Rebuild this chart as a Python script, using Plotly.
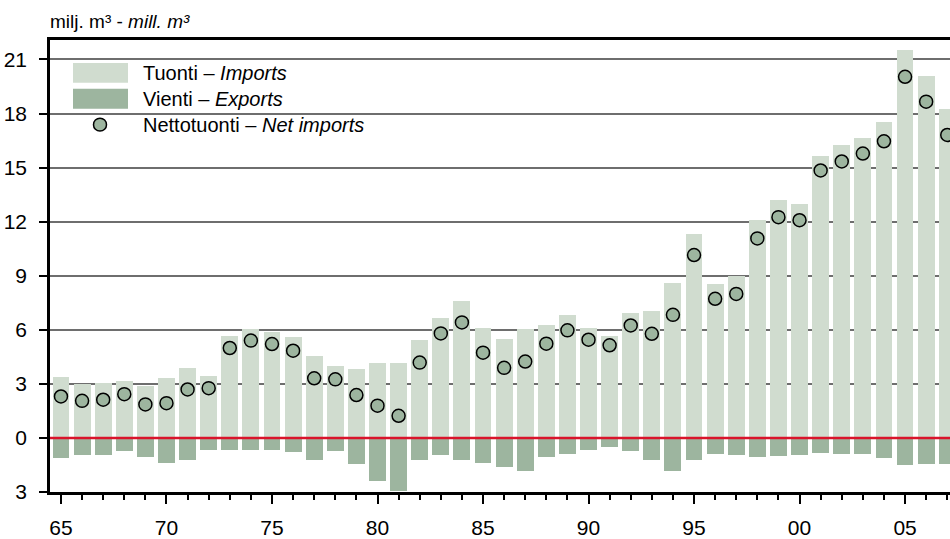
import plotly.graph_objects as go

years = list(range(1965, 2008))
imports = [3.37, 3.00, 3.04, 3.15, 2.87, 3.31, 3.87, 3.42, 5.64, 6.02, 5.86, 5.58, 4.53, 3.98,
           3.81, 4.14, 4.14, 5.41, 6.68, 7.62, 6.08, 5.47, 6.02, 6.24, 6.80, 6.08, 5.64, 6.96,
           7.02, 8.62, 11.33, 8.56, 9.00, 12.10, 13.20, 12.98, 15.64, 16.24, 16.63, 17.51, 21.55, 20.06, 18.23]
exports = [1.10, 0.94, 0.94, 0.72, 1.05, 1.38, 1.22, 0.66, 0.66, 0.66, 0.66, 0.77, 1.22, 0.72,
           1.44, 2.38, 2.95, 1.22, 0.94, 1.22, 1.38, 1.60, 1.82, 1.05, 0.88, 0.66, 0.50, 0.72,
           1.22, 1.82, 1.22, 0.88, 0.94, 1.05, 1.00, 0.94, 0.83, 0.88, 0.88, 1.10, 1.49, 1.44, 1.44]
net_imports = [2.30, 2.06, 2.12, 2.43, 1.86, 1.93, 2.69, 2.76, 4.99, 5.40, 5.21, 4.84, 3.31, 3.25,
               2.38, 1.79, 1.23, 4.18, 5.80, 6.41, 4.73, 3.89, 4.24, 5.23, 5.97, 5.45, 5.14, 6.24,
               5.78, 6.83, 10.15, 7.72, 7.99, 11.07, 12.25, 12.08, 14.84, 15.34, 15.78, 16.46, 20.04, 18.66, 16.81]

x_tick_vals = [1965, 1970, 1975, 1980, 1985, 1990, 1995, 2000, 2005]
x_tick_text = ["65", "70", "75", "80", "85", "90", "95", "00", "05"]
y_tick_vals = [-3, 0, 3, 6, 9, 12, 15, 18, 21]
y_tick_text = ["3", "0", "3", "6", "9", "12", "15", "18", "21"]

legend_labels = ["Tuonti – <i>Imports</i>", "Vienti – <i>Exports</i>", "Nettotuonti – <i>Net imports</i>"]
unit_label = "milj. m³ - <i>mill. m³</i>"

C_IMP = "#d0dccf"
C_EXP = "#9db59f"
C_RED = "#d9142b"
FONT = "Liberation Sans Narrow, Arial Narrow, Liberation Sans, sans-serif"

W, H = 950, 539
L, R, T, B = 50, 0, 40, 45
PW, PH = W - L - R, H - T - B


def px(x):
    return (x - L) / PW


def py(y):
    return (H - B - y) / PH


fig = go.Figure()
fig.add_trace(go.Bar(x=years, y=imports, marker=dict(color=C_IMP, line=dict(width=0)),
                     width=0.8, showlegend=False))
fig.add_trace(go.Bar(x=years, y=[-v for v in exports], marker=dict(color=C_EXP, line=dict(width=0)),
                     width=0.8, showlegend=False))
fig.add_trace(go.Scatter(x=years, y=net_imports, mode="markers",
                         marker=dict(size=13, color=C_EXP, line=dict(color="black", width=1.5)),
                         showlegend=False))

shapes = [
    # legend background
    dict(type="rect", xref="paper", yref="paper", x0=px(60), x1=px(368), y0=py(140), y1=py(62),
         fillcolor="white", line=dict(width=0), layer="between"),
    dict(type="rect", xref="paper", yref="paper", x0=px(73), x1=px(128), y0=py(83), y1=py(63),
         fillcolor=C_IMP, line=dict(width=0), layer="above"),
    dict(type="rect", xref="paper", yref="paper", x0=px(73), x1=px(128), y0=py(109), y1=py(89),
         fillcolor=C_EXP, line=dict(width=0), layer="above"),
    dict(type="circle", xref="paper", yref="paper", x0=px(93.5), x1=px(106.5), y0=py(131.5), y1=py(118.5),
         fillcolor=C_EXP, line=dict(color="black", width=1.5), layer="above"),
    # zero line
    dict(type="line", xref="paper", yref="y", x0=0, x1=1, y0=0, y1=0,
         line=dict(color=C_RED, width=2.5), layer="above"),
]

annotations = [
    dict(text=legend_labels[0], x=px(141), y=py(73), xref="paper", yref="paper",
         xanchor="left", yanchor="middle", showarrow=False, font=dict(size=20, color="black")),
    dict(text=legend_labels[1], x=px(141), y=py(99), xref="paper", yref="paper",
         xanchor="left", yanchor="middle", showarrow=False, font=dict(size=20, color="black")),
    dict(text=legend_labels[2], x=px(141), y=py(125), xref="paper", yref="paper",
         xanchor="left", yanchor="middle", showarrow=False, font=dict(size=20, color="black")),
    dict(text=unit_label, x=px(48), y=py(21), xref="paper", yref="paper",
         xanchor="left", yanchor="middle", showarrow=False, font=dict(size=19, color="black")),
]

fig.update_layout(
    width=W, height=H,
    margin=dict(l=L, r=R, t=T, b=B, pad=0),
    paper_bgcolor="white", plot_bgcolor="white",
    barmode="overlay", bargap=0,
    font=dict(family=FONT, size=21, color="black"),
    shapes=shapes, annotations=annotations,
    showlegend=False,
)
fig.update_xaxes(
    range=[1964.48, 2007.13],
    tickvals=x_tick_vals, ticktext=x_tick_text,
    ticks="outside", ticklen=9, tickwidth=1.5, tickcolor="black",
    minor=dict(tickvals=years, ticks="outside", ticklen=5, tickwidth=1.5, tickcolor="black", showgrid=False),
    showgrid=False, zeroline=False,
    showline=True, linecolor="black", linewidth=2.5, mirror=True,
    tickfont=dict(size=21), ticklabelstandoff=6,
)
fig.update_yaxes(
    range=[-3, 22.08],
    tickvals=y_tick_vals, ticktext=y_tick_text,
    ticks="outside", ticklen=8, tickwidth=1.5, tickcolor="black",
    showgrid=True, gridcolor="#6e6e6e", gridwidth=1.5,
    zeroline=False,
    showline=True, linecolor="black", linewidth=2.5,
    tickfont=dict(size=21), ticklabelstandoff=8,
)

fig.write_html("out.html", config={"displayModeBar": False},
               post_script="document.body.style.margin='0';document.body.style.overflow='hidden';")
